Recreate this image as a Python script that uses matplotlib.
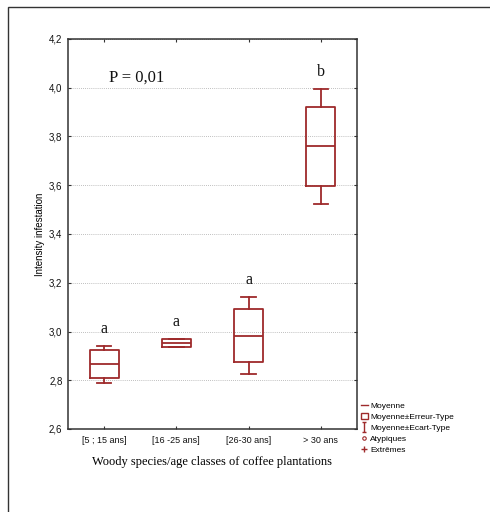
import matplotlib
matplotlib.use("Agg")
import matplotlib.pyplot as plt
from matplotlib.lines import Line2D
from matplotlib.patches import Rectangle, Patch
from matplotlib.path import Path
from matplotlib.ticker import FuncFormatter

# données (moyenne, erreur-type, écart-type)
categories = ["[5 ; 15 ans]", "[16 -25 ans]", "[26-30 ans]", "> 30 ans"]
means = [2.866, 2.953, 2.983, 3.760]
se = [0.057, 0.015, 0.110, 0.163]
sd = [0.076, 0.018, 0.158, 0.235]
letters = ["a", "a", "a", "b"]

RED = "#9E2A2B"
FRAME = "#333333"
SANS = ["Liberation Sans Narrow", "Liberation Sans", "DejaVu Sans"]
SERIF = ["Liberation Serif", "DejaVu Serif"]

fig = plt.figure(figsize=(4.9, 5.12), dpi=100)
fig.patch.set_facecolor("white")

# cadre extérieur
fig.patches.append(Rectangle((8 / 490, -0.2), 2, 1.2 - 7 / 512, transform=fig.transFigure,
                             fill=False, edgecolor=FRAME, linewidth=1.0, clip_on=False))

ax = fig.add_axes([68 / 490, 1 - 429 / 512, 289 / 490, 390 / 512])

stats = []
for c, m, s, d in zip(categories, means, se, sd):
    stats.append({"label": c, "med": m, "q1": m - s, "q3": m + s,
                  "whislo": m - d, "whishi": m + d, "fliers": []})

line_kw = dict(color=RED, linewidth=1.3)
ax.bxp(stats, positions=range(len(stats)), widths=0.4, capwidths=0.2,
       boxprops=line_kw, medianprops=line_kw, whiskerprops=line_kw, capprops=line_kw,
       showfliers=False, manage_ticks=False)

for i, (m, d, l) in enumerate(zip(means, sd, letters)):
    ax.annotate(l, (i, m + d), xytext=(0, 12), textcoords="offset points",
                ha="center", va="center", fontsize=11.5, family=SERIF, color="#111111")

ax.text(0.45, 4.04, "P = 0,01", ha="center", va="center", fontsize=12,
        family=SERIF, color="#111111")

ax.set_xlim(-0.5, 3.5)
ax.set_ylim(2.6, 4.2)
ax.set_xticks(range(len(categories)))
ax.set_xticklabels(categories, family=SANS, fontsize=6.5)
ax.set_yticks([2.6 + 0.2 * k for k in range(9)])
ax.yaxis.set_major_formatter(FuncFormatter(lambda v, p: f"{v:.1f}".replace(".", ",")))
for t in ax.get_yticklabels():
    t.set_family(SANS)
ax.tick_params(axis="y", labelsize=7, pad=4)
ax.tick_params(direction="in", length=2.5, width=0.8, top=True, right=True, colors=FRAME,
               labelcolor="#111111")
ax.tick_params(axis="x", pad=5)
ax.yaxis.grid(True, linestyle=(0, (1, 1.5)), color="#AAAAAA", linewidth=0.6)
ax.set_axisbelow(True)
for sp in ax.spines.values():
    sp.set_color(FRAME)
    sp.set_linewidth(1.1)

ax.set_ylabel("Intensity infestation", family=SANS, fontsize=7, labelpad=3)
ax.set_xlabel("Woody species/age classes of coffee plantations", family=SERIF,
              fontsize=9, labelpad=8)

# marqueur en forme de I (moyenne ± écart-type)
ibar = Path([(-0.5, 1), (0.5, 1), (0, 1), (0, -1), (-0.5, -1), (0.5, -1)],
            [Path.MOVETO, Path.LINETO, Path.MOVETO, Path.LINETO, Path.MOVETO, Path.LINETO])

handles = [
    Line2D([], [], color=RED, linewidth=1.0),
    Patch(facecolor="white", edgecolor=RED, linewidth=1.0),
    Line2D([], [], color=RED, linestyle="none", marker=ibar, markersize=7,
           markerfacecolor="none", markeredgewidth=1.0),
    Line2D([], [], color=RED, linestyle="none", marker="o", markersize=2.5,
           markerfacecolor="white", markeredgewidth=0.8),
    Line2D([], [], color=RED, linestyle="none", marker="+", markersize=4, markeredgewidth=1.0),
]
labels = ["Moyenne", "Moyenne±Erreur-Type", "Moyenne±Ecart-Type", "Atypiques", "Extrêmes"]
fig.legend(handles, labels, loc="upper left", bbox_to_anchor=(360 / 490, 1 - 401 / 512),
           frameon=False, prop={"family": SANS, "size": 6}, handlelength=0.8,
           handleheight=0.8, handletextpad=0.3, labelspacing=0.35, borderpad=0.1,
           borderaxespad=0)

fig.savefig("out.png", dpi=100, facecolor="white")
